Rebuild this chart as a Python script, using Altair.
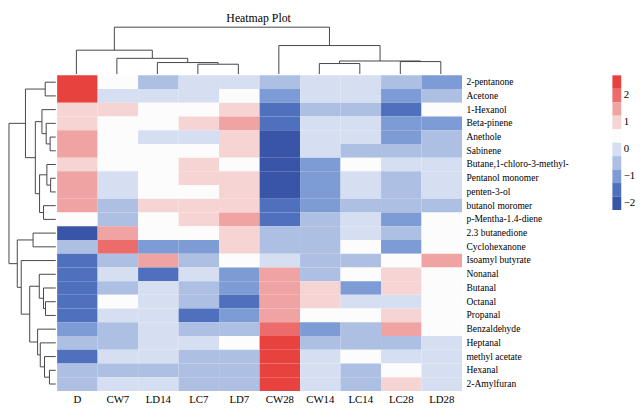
import altair as alt
import pandas as pd

FONT = "Liberation Serif"

columns = ["D", "CW7", "LD14", "LC7", "LD7", "CW28", "CW14", "LC14", "LC28", "LD28"]
compounds = [
    "2-pentanone", "Acetone", "1-Hexanol", "Beta-pinene", "Anethole", "Sabinene",
    "Butane,1-chloro-3-methyl-", "Pentanol monomer", "penten-3-ol", "butanol moromer",
    "p-Mentha-1.4-diene", "2.3 butanedione", "Cyclohexanone", "Isoamyl butyrate",
    "Nonanal", "Butanal", "Octanal", "Propanal", "Benzaldehyde", "Heptanal",
    "methyl acetate", "Hexanal", "2-Amylfuran",
]

# colour-level of every cell, one list per sample (rows in the order of `compounds`)
D    = [2.5, 2.5, 1, 1, 1.5, 1.5, 1, 1.5, 1.5, 1.5, 0.5, -2, -0.5, -1.5, -1.5, -1.5, -1.5, -1.5, -1, -0.5, -1.5, -0.5, -0.5]
CW7  = [0.5, 0, 1, 0.5, 0.5, 0.5, 0.5, 0, 0, -0.5, -0.5, 1.5, 2, -0.5, 0, -0.5, 0.5, 0, -0.5, -0.5, 0, -0.5, 0]
LD14 = [-0.5, 0, 0.5, 0.5, 0, 0.5, 0.5, 0.5, 0.5, 1, 0.5, 0.5, -1, 1.5, -1.5, 0, 0, 0, 0, 0, 0, -0.5, 0]
LC7  = [0, 0, 0.5, 1, 0, 0.5, 1, 1, 0.5, 1, 1, 0.5, -1, -0.5, 0, -0.5, -0.5, -1.5, -0.5, 0, -0.5, -0.5, -0.5]
LD7  = [0, 0.5, 1, 1.5, 1, 1, 0.5, 1, 1, 1, 1.5, 1, 1, 0.5, -1, -1, -1.5, -1, -0.5, 0.5, -0.5, -0.5, -0.5]
CW28 = [-0.5, -1, -1.5, -1.5, -2, -2, -2, -2, -2, -1.5, -1.5, -0.5, -0.5, 0, 1.5, 1.5, 1.5, 1.5, 2, 2.5, 2.5, 2.5, 2.5]
CW14 = [0, 0, -0.5, 0, 0, 0, -1, -1, -1, -1, -0.5, -0.5, -0.5, -0.5, -0.5, 1, 1, 0.5, -1, -0.5, 0, 0, 0]
LC14 = [0, 0, -0.5, 0, 0, -0.5, 0.5, 0, 0, -0.5, 0, 0, 0.5, -0.5, 0.5, -1, 0, 0.5, -0.5, -0.5, 0.5, -0.5, -0.5]
LC28 = [-0.5, -1, -1.5, -1, -1, -0.5, 0, -0.5, -0.5, -0.5, -1, -0.5, -1, 0.5, 1, 1, 0, 1, 1.5, -0.5, 0, 0.5, 1]
LD28 = [-1, -0.5, 0.5, -1, -0.5, -0.5, 0, 0, 0, -0.5, 0.5, 0.5, 0.5, 1.5, 0.5, 0.5, 0.5, 0.5, 0.5, 0, 0, 0, 0]
values_by_column = [D, CW7, LD14, LC7, LD7, CW28, CW14, LC14, LC28, LD28]

levels = [2.5, 2, 1.5, 1, 0.5, 0, -0.5, -1, -1.5, -2]
level_colors = ["#e8423e", "#ec6b6b", "#f0a3a3", "#f6d4d4", "#fcfcfc",
                "#d6dff2", "#adbfe3", "#7d9bd4", "#4f71bd", "#3855a8"]
legend_ticks = [2, 1, 0, -1, -2]

# hierarchical clustering: (child a, child b, merge height); leaves first, new nodes numbered after
col_merges = [
    (3, 4, 10.0), (2, 10, 11.7), (1, 11, 16.0), (0, 12, 24.3),
    (6, 7, 10.7), (8, 9, 12.7), (14, 15, 13.3), (5, 16, 29.0), (13, 17, 47.7),
]
row_merges = [
    (0, 1, 10.7), (4, 5, 5.7), (3, 24, 9.7), (2, 25, 14.0), (7, 8, 5.2),
    (6, 27, 9.0), (9, 10, 12.4), (28, 29, 16.4), (26, 30, 20.7), (23, 31, 30.7),
    (11, 12, 23.0), (16, 17, 10.4), (15, 34, 12.4), (14, 35, 16.7), (21, 22, 6.4),
    (20, 37, 11.4), (19, 38, 15.7), (18, 39, 18.4), (36, 40, 26.4), (13, 41, 35.0),
    (33, 42, 39.0), (32, 43, 47.4),
]


def dendro_segments(merges, n):
    pos = {i: i + 0.5 for i in range(n)}
    h = {i: 0.0 for i in range(n)}
    segs = []
    for k, (a, b, ht) in enumerate(merges):
        node = n + k
        segs.append(dict(p=pos[a], p2=pos[a], d=h[a], d2=ht))
        segs.append(dict(p=pos[b], p2=pos[b], d=h[b], d2=ht))
        segs.append(dict(p=pos[a], p2=pos[b], d=ht, d2=ht))
        pos[node] = (pos[a] + pos[b]) / 2
        h[node] = ht
    return pd.DataFrame(segs)


cells = pd.DataFrame(
    [dict(sample=c, compound=compounds[i], v=vals[i])
     for c, vals in zip(columns, values_by_column) for i in range(len(compounds))]
)

CELL_W = 41.2
CELL_H = 13.96
HM_W = CELL_W * len(columns)
HM_H = CELL_H * len(compounds)
LEFT_W = 47.6
TOP_H = 47.7
LINE = "#444444"

color = alt.Color("v:O", scale=alt.Scale(domain=levels, range=level_colors), legend=None)

heat = alt.Chart(cells).mark_rect().encode(
    x=alt.X("sample:N", sort=columns, title=None,
            scale=alt.Scale(paddingInner=0, paddingOuter=0),
            axis=alt.Axis(orient="bottom", ticks=False, domain=False, labelAngle=0,
                          labelFont=FONT, labelFontSize=11, labelColor="black", labelPadding=3)),
    y=alt.Y("compound:N", sort=compounds, title=None,
            scale=alt.Scale(paddingInner=0, paddingOuter=0),
            axis=alt.Axis(orient="right", ticks=False, domain=False,
                          labelFont=FONT, labelFontSize=9.7, labelColor="black", labelPadding=4)),
    color=color,
).properties(width=HM_W, height=HM_H)

col_seg = dendro_segments(col_merges, len(columns))
top_dendro = alt.Chart(col_seg).mark_rule(color=LINE, strokeWidth=1).encode(
    x=alt.X("p:Q", scale=alt.Scale(domain=[0, len(columns)]), axis=None),
    x2="p2:Q",
    y=alt.Y("d:Q", scale=alt.Scale(domain=[0, 47.7]), axis=None),
    y2="d2:Q",
).properties(
    width=HM_W, height=TOP_H,
    title=alt.TitleParams("Heatmap Plot", font=FONT, fontSize=12, fontWeight="normal",
                          color="black", anchor="middle", offset=2),
)

row_seg = dendro_segments(row_merges, len(compounds))
left_dendro = alt.Chart(row_seg).mark_rule(color=LINE, strokeWidth=1).encode(
    y=alt.Y("p:Q", scale=alt.Scale(domain=[0, len(compounds)], reverse=True), axis=None),
    y2="p2:Q",
    x=alt.X("d:Q", scale=alt.Scale(domain=[0, 47.4], reverse=True), axis=None),
    x2="d2:Q",
).properties(width=LEFT_W, height=HM_H)

blank = alt.Chart(pd.DataFrame({"a": [0]})).mark_point(size=0, opacity=0).encode(
    x=alt.value(LEFT_W / 2), y=alt.value(TOP_H - 2)
).properties(width=LEFT_W, height=TOP_H)

legend = alt.Chart(pd.DataFrame({"v": levels})).mark_rect().encode(
    y=alt.Y("v:O", sort=levels, title=None,
            scale=alt.Scale(paddingInner=0, paddingOuter=0),
            axis=alt.Axis(orient="right", ticks=False, domain=False, values=legend_ticks,
                          labelExpr="datum.value < 0 ? '\u2212' + (-datum.value) : '' + datum.value",
                          labelFont=FONT, labelFontSize=11, labelColor="black", labelPadding=2)),
    color=color,
).properties(width=9, height=13.7 * len(levels))

top_row = alt.hconcat(blank, top_dendro, spacing=0)
bottom_row = alt.hconcat(alt.hconcat(left_dendro, heat, spacing=0), legend, spacing=44)

chart = alt.vconcat(top_row, bottom_row, spacing=0).properties(padding=0).configure_view(stroke=None)

chart.save("out.html", embed_options={"renderer": "svg", "actions": False})
